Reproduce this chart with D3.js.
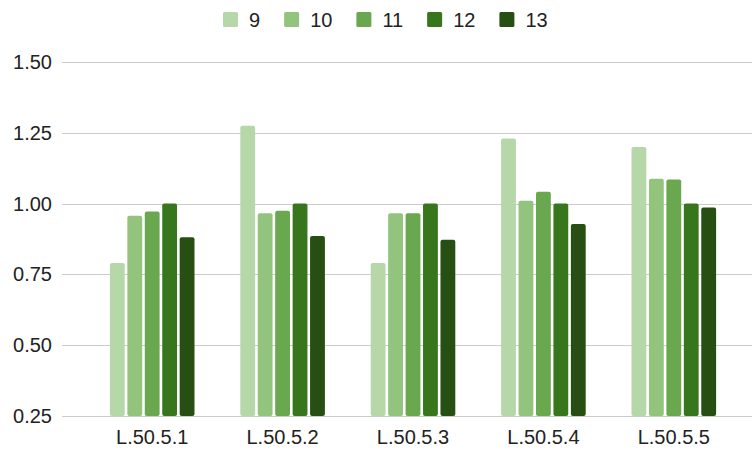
<!DOCTYPE html>
<html>
<head>
<meta charset="utf-8">
<script src="https://cdn.jsdelivr.net/npm/d3@7"></script>
<style>
  html, body { margin: 0; padding: 0; background: #fff; }
  svg { display: block; font-family: Arial, "Liberation Sans", sans-serif; }
</style>
</head>
<body>
<svg id="chart" width="753" height="456"></svg>
<script>
// Categories along the x axis
const categories = ["L.50.5.1", "L.50.5.2", "L.50.5.3", "L.50.5.4", "L.50.5.5"];
// Series names shown in the legend
const seriesNames = ["9", "10", "11", "12", "13"];
// One array per series, one value per category
const s9  = [0.79, 1.275, 0.79, 1.23, 1.20];
const s10 = [0.957, 0.966, 0.966, 1.01, 1.088];
const s11 = [0.972, 0.975, 0.966, 1.042, 1.085];
const s12 = [1.00, 1.00, 1.00, 1.00, 1.00];
const s13 = [0.881, 0.886, 0.872, 0.928, 0.986];
// Y axis ticks
const yTicks = [0.25, 0.50, 0.75, 1.00, 1.25, 1.50];

const seriesValues = [s9, s10, s11, s12, s13];
const colors = ["#b6d7a8", "#93c47d", "#6aa84f", "#38761d", "#274e13"];

const svg = d3.select("#chart");
const gridLeft = 62, gridRight = 752;
const plotTop = 62, plotBottom = 416;

const y = d3.scaleLinear().domain([0.25, 1.5]).range([plotBottom, plotTop]);
const x0 = d3.scaleBand().domain(categories).range([87, 739]).paddingInner(0);
const groupWidth = 84.6;
const x1 = d3.scaleBand().domain(seriesNames)
  .range([-groupWidth / 2, groupWidth / 2]).paddingInner(0.15).paddingOuter(0);
const color = d3.scaleOrdinal().domain(seriesNames).range(colors);

// Horizontal gridlines and tick labels
const yAxis = d3.axisLeft(y).tickValues(yTicks).tickFormat(d3.format(".2f"))
  .tickSize(-(gridRight - gridLeft)).tickPadding(10);
const gy = svg.append("g").attr("transform", `translate(${gridLeft},0)`).call(yAxis);
gy.select(".domain").remove();
gy.selectAll(".tick line").attr("stroke", "#cccccc").attr("stroke-width", 1)
  .attr("shape-rendering", "crispEdges");
gy.selectAll(".tick text").attr("fill", "#222").style("font-size", "20px")
  .attr("font-family", "Arial, 'Liberation Sans', sans-serif");

// Bars
const groups = svg.append("g").selectAll("g").data(categories).join("g")
  .attr("transform", d => `translate(${x0(d) + x0.bandwidth() / 2},0)`);
groups.selectAll("rect")
  .data((c, ci) => seriesNames.map((s, si) => ({ s, v: seriesValues[si][ci] })))
  .join("rect")
  .attr("x", d => x1(d.s))
  .attr("width", x1.bandwidth())
  .attr("y", d => y(d.v))
  .attr("height", d => y(0.25) - y(d.v))
  .attr("rx", 2)
  .attr("fill", d => color(d.s));

// Baseline redrawn above the bars
svg.append("line").attr("x1", gridLeft).attr("x2", gridRight)
  .attr("y1", y(0.25)).attr("y2", y(0.25))
  .attr("stroke", "#cccccc").attr("shape-rendering", "crispEdges");

// Category labels
const xAxis = d3.axisBottom(x0).tickSize(0).tickPadding(14);
const gx = svg.append("g").attr("transform", `translate(0,${plotBottom})`).call(xAxis);
gx.select(".domain").remove();
gx.selectAll(".tick text").attr("fill", "#222").style("font-size", "20px")
  .attr("font-family", "Arial, 'Liberation Sans', sans-serif");

// Legend
const legend = svg.append("g").attr("class", "legend");
let lx = 223;
seriesNames.forEach((name, i) => {
  const item = legend.append("g").attr("transform", `translate(${lx},12)`);
  item.append("rect").attr("width", 15).attr("height", 15).attr("rx", 1.5)
    .attr("fill", colors[i]);
  const t = item.append("text").attr("x", 26).attr("y", 14.5)
    .attr("fill", "#222").style("font-size", "20px").text(name);
  const w = t.node().getComputedTextLength();
  lx += 26 + w + 24;
});
</script>
</body>
</html>
